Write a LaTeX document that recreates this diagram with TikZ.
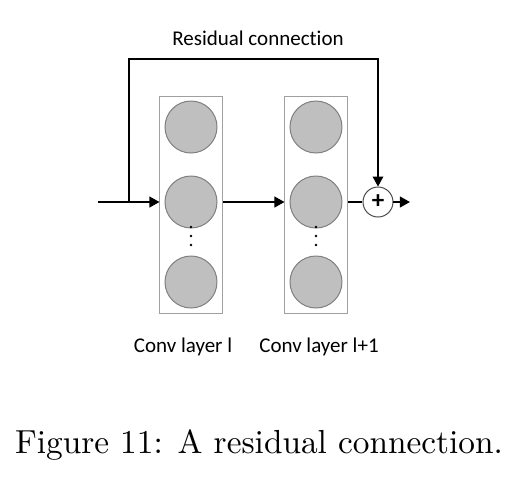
\documentclass[tikz,border=0pt]{standalone}
\usepackage{fontspec}
\newfontfamily\labelfont[Ligatures=NoCommon]{Carlito}
\usetikzlibrary{arrows.meta}
\definecolor{unitgray}{RGB}{191,191,191}
\definecolor{unitedge}{RGB}{128,128,128}
\definecolor{boxedge}{RGB}{160,160,160}

\tikzset{
    layerbox/.style={draw=boxedge, line width=0.3pt, minimum width=18.9pt, minimum height=65.1pt, inner sep=0pt},
    unit/.style={circle, draw=unitedge, fill=unitgray, line width=0.3pt, minimum size=15.6pt, inner sep=0pt},
    vdot/.style={circle, fill=black, minimum size=0.8pt, inner sep=0pt},
    sumnode/.style={circle, draw=black!70, line width=0.3pt, minimum size=9pt, inner sep=0pt, font=\labelfont\bfseries\fontsize{7.5}{8}\selectfont},
    flow/.style={-{Triangle[length=3pt,width=3.2pt]}, line width=0.55pt},
    plainflow/.style={line width=0.55pt},
    tag/.style={font=\labelfont\fontsize{6.3}{7.5}\selectfont, inner sep=0pt, anchor=base}
}

\begin{document}
\begin{tikzpicture}[x=0.3pt, y=-0.3pt]
    \useasboundingbox (0,0) rectangle (531,486);

    % Layer boxes
    \node[layerbox] (box1) at (191.5,204.5) {};
    \node[layerbox] (box2) at (316.5,204.5) {};

    % Units of layer l
    \node[unit] (u1a) at (191,127) {};
    \node[unit] (u1b) at (191,202) {};
    \node[unit] (u1c) at (191,282) {};
    \node[vdot] (d1a) at (191,227) {};
    \node[vdot] (d1b) at (191,236) {};
    \node[vdot] (d1c) at (191,245) {};

    % Units of layer l+1
    \node[unit] (u2a) at (316,127) {};
    \node[unit] (u2b) at (316,202) {};
    \node[unit] (u2c) at (316,282) {};
    \node[vdot] (d2a) at (316,227) {};
    \node[vdot] (d2b) at (316,236) {};
    \node[vdot] (d2c) at (316,245) {};

    % Sum
    \node[sumnode] (plus) at (378,202) {+};

    % Free ends
    \coordinate (in) at (98,202);
    \coordinate (branch) at (129,202);
    \coordinate (rtop) at (250,59);
    \coordinate (out) at (410,202);

    % Labels
    \node[tag] (restag) at (258,45) {Residual connection};
    \node[tag] (tag1) at (183,352) {Conv layer l};
    \node[tag] (tag2) at (319,352) {Conv layer l+1};
    \node[inner sep=0pt, anchor=base, font=\fontsize{10}{12}\selectfont] (caption) at (259,453) {Figure 11: A residual connection.};

    % Arrows
    \draw[flow] (in) -- (u1b -| box1.west);
    \draw[flow] (u1b -| box1.east) -- (u2b -| box2.west);
    \draw[plainflow] (u2b -| box2.east) -- (plus.west);
    \draw[flow] (plus.east) -- (out);
    \draw[flow, line width=0.4pt] (branch) |- (rtop) -| (plus.north);
\end{tikzpicture}
\end{document}
